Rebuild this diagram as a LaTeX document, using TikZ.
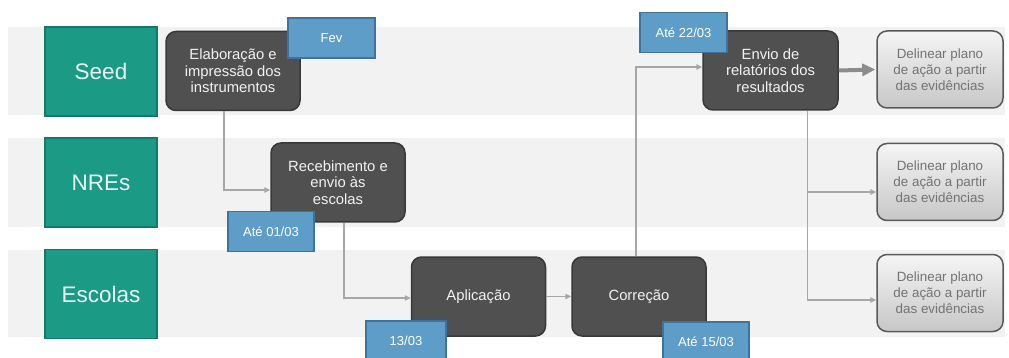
\documentclass[tikz,border=0pt]{standalone}
\usepackage{fontspec}
\setmainfont{Liberation Sans}
\usetikzlibrary{arrows.meta}
\definecolor{banda}{HTML}{F2F2F2}
\definecolor{verde}{HTML}{1B9A86}
\definecolor{verdeb}{HTML}{15786A}
\definecolor{escuro}{HTML}{505050}
\definecolor{escurob}{HTML}{383838}
\definecolor{azul}{HTML}{5E9DC8}
\definecolor{azulb}{HTML}{41729C}
\definecolor{seta}{HTML}{A6A6A6}
\begin{document}
\begin{tikzpicture}
[x=1pt, y=-1pt, line width=1.5pt,
lane/.style={rectangle, draw=verdeb, fill=verde, text=white!90!verde, inner sep=0pt, minimum width=112pt, minimum height=89pt, font=\fontsize{22.5}{26}\selectfont},
etapa/.style={rectangle, rounded corners=10pt, draw=escurob, fill=escuro, text=white!95!black, align=center, inner sep=0pt, minimum width=134pt, minimum height=79pt, font=\fontsize{14.8}{16.7}\selectfont},
prazo/.style={rectangle, draw=azulb, fill=azul, text=white, inner sep=0pt, minimum width=86pt, minimum height=40pt, font=\fontsize{13}{15}\selectfont},
plano/.style={rectangle, rounded corners=10pt, draw=black!65, top color=black!4, bottom color=black!22, text=black!55, align=center, inner sep=0pt, minimum width=126pt, minimum height=77pt, font=\fontsize{13.4}{16}\selectfont},
fluxo/.style={draw=seta, line width=1.5pt, -{Triangle[length=6pt, width=5.5pt]}}]

\useasboundingbox[fill=white] (0,0) rectangle (1009,358);

% faixas
\foreach \t/\b in {27/115, 138/227, 250/337} {
  \fill[banda, draw=none] (8,\t) rectangle (1005,\b);
}

\node[lane] (seed) at (101,71.5) {Seed};
\node[lane] (nres) at (101,182.5) {NREs};
\node[lane] (escolas) at (101,294) {Escolas};

\node[etapa] (elab) at (233,71) {Elaboração e\\impressão dos\\instrumentos};
\node[etapa] (receb) at (338,182.5) {Recebimento e\\envio às\\escolas};
\node[etapa] (aplic) at (478.5,296.5) {Aplicação};
\node[etapa] (corr) at (639,296.5) {Correção};
\node[etapa, minimum width=135pt] (envio) at (770.5,70.5) {Envio de\\relatórios dos\\resultados};

\node[plano] (plano1) at (940,69.5) {Delinear plano\\de ação a partir\\das evidências};
\node[plano] (plano2) at (940,182) {Delinear plano\\de ação a partir\\das evidências};
\node[plano] (plano3) at (940,293) {Delinear plano\\de ação a partir\\das evidências};

\node[prazo, minimum width=87pt] (fev) at (331.5,38) {Fev};
\node[prazo] (ate0103) at (271,231.5) {Até 01/03};
\node[prazo, minimum width=80pt] (ate1303) at (406,341) {13/03};
\node[prazo] (ate1503) at (706,342) {Até 15/03};
\node[prazo, minimum width=87pt] (ate2203) at (683.5,32.5) {Até 22/03};

\draw[fluxo] ([xshift=-9pt]elab.south) |- ([yshift=-7.5pt]receb.west);
\draw[fluxo] ([xshift=6pt]receb.south) |- ([yshift=-1.5pt]aplic.west);
\draw[fluxo] (aplic.east) -- (corr.west);
\draw[fluxo] ([xshift=-3pt]corr.north) |- ([yshift=3.5pt]envio.west);
\draw[draw=black!45, line width=4pt, -{Triangle[length=13pt, width=12pt]}] (envio.east) -- ([xshift=-1pt]plano1.west);
\draw[fluxo] ([xshift=37pt]envio.south) |- ([yshift=-10pt]plano2.west);
\draw[fluxo] ([xshift=37pt]envio.south) |- ([yshift=-7pt]plano3.west);

\end{tikzpicture}
\end{document}
